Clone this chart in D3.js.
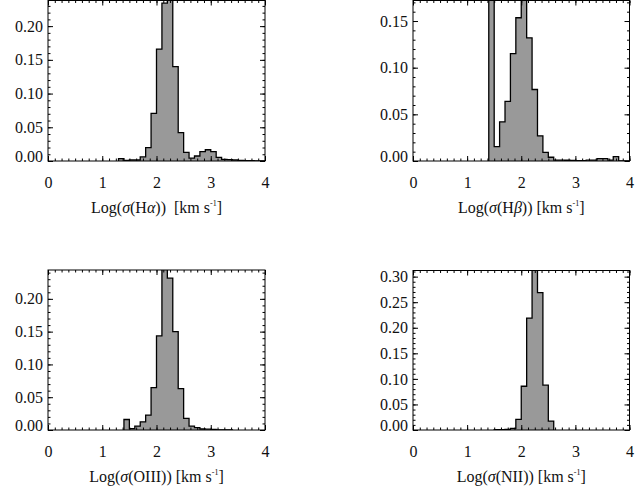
<!DOCTYPE html>
<html>
<head>
<meta charset="utf-8">
<script src="https://cdn.jsdelivr.net/npm/d3@7"></script>
<style>
  body { margin: 0; background: #fff; }
  svg { display: block; }
</style>
</head>
<body>
<div id="viz"></div>
<script>
const width = 635;
const height = 494;
const binWidth = 0.1;
const serif = '"Liberation Serif", "Times New Roman", Times, "DejaVu Serif", serif';

// Histogram values (fraction per 0.1 dex bin)
const haStart = 1.3;
const haValues = [0.0034, 0.001, 0.0015, 0.0015, 0.006, 0.0197, 0.0705, 0.166, 0.234, 0.26,
  0.140, 0.042, 0.0128, 0.0044, 0.0074, 0.0138, 0.0167, 0.0138, 0.0055, 0.0025,
  0.002, 0.0015, 0.001, 0.0007, 0.0005, 0.0003, 0.0002];
const hbStart = 1.4;
const hbValues = [0.30, 0.0153, 0.042, 0.064, 0.115, 0.1535, 0.19, 0.132, 0.0766, 0.027,
  0.0093, 0.004, 0.001, 0.001, 0.0008, 0.0006, 0.0005, 0.0005, 0.001, 0.001,
  0.0025, 0.0025, 0.001, 0.0046, 0, 0];
const oiiiStart = 1.4;
const oiiiValues = [0.016, 0.002, 0.006, 0.0125, 0.0227, 0.0645, 0.1435, 0.26, 0.2315, 0.150,
  0.063, 0.0177, 0.006, 0.0035, 0.0015, 0.0012, 0.0008, 0.0003, 0.0002, 0.0001];
const niiStart = 1.5;
const niiValues = [0.0005, 0.0005, 0.0013, 0.003, 0.0208, 0.0856, 0.219, 0.33, 0.2686, 0.0876, 0.0175];

// Axis ranges and ticks
const xTicks = [0, 1, 2, 3, 4];
const yMaxes = [0.238, 0.172, 0.244, 0.312];
const yTickSets = [
  [0, 0.05, 0.10, 0.15, 0.20],
  [0, 0.05, 0.10, 0.15],
  [0, 0.05, 0.10, 0.15, 0.20],
  [0, 0.05, 0.10, 0.15, 0.20, 0.25, 0.30]
];
const lineNames = [
  ['H', 'α'],
  ['H', 'β'],
  ['OIII', null],
  ['NII', null]
];
const gaps = ['  ', ' ', ' ', ' '];

const series = [
  {start: haStart, values: haValues},
  {start: hbStart, values: hbValues},
  {start: oiiiStart, values: oiiiValues},
  {start: niiStart, values: niiValues}
];

// Plot boxes
const boxes = [
  {left: 48, top: 0.5, right: 265, bottom: 161},
  {left: 413, top: 0.5, right: 629.5, bottom: 161},
  {left: 48, top: 270, right: 265, bottom: 430},
  {left: 413, top: 270.5, right: 629.5, bottom: 430}
];

const svg = d3.select('#viz')
  .append('svg')
    .attr('width', width)
    .attr('height', height)
    .attr('viewBox', `0 0 ${width} ${height}`);

series.forEach((s, i) => {
  const b = boxes[i];
  const x = d3.scaleLinear().domain([0, 4]).range([b.left, b.right]);
  const y = d3.scaleLinear().domain([0, yMaxes[i]]).range([b.bottom, b.top]);
  const g = svg.append('g').attr('class', `panel panel-${i}`);

  g.append('clipPath')
    .attr('id', `clip-${i}`)
    .append('rect')
      .attr('x', b.left)
      .attr('y', b.top)
      .attr('width', b.right - b.left)
      .attr('height', b.bottom - b.top);

  // step outline of the histogram
  const pts = [[s.start, 0]];
  s.values.forEach((v, k) => {
    const x0 = s.start + k * binWidth;
    pts.push([x0, v], [x0 + binWidth, v]);
  });
  pts.push([s.start + s.values.length * binWidth, 0]);

  const line = d3.line()
    .x(d => x(d[0]))
    .y(d => y(d[1]));

  g.append('path')
    .attr('clip-path', `url(#clip-${i})`)
    .attr('d', line(pts))
    .attr('fill', '#999')
    .attr('stroke', '#000')
    .attr('stroke-width', 1.3)
    .attr('stroke-linejoin', 'miter');

  const xMinor = d3.range(0, 4.0001, 0.125);
  const yMinor = d3.range(0, yMaxes[i], 0.01);

  const addAxis = (axis, tx, ty, cls) => {
    const a = g.append('g')
      .attr('class', cls)
      .attr('transform', `translate(${tx},${ty})`)
      .call(axis);
    a.select('.domain').remove();
    a.attr('font-family', serif);
    a.selectAll('line').attr('stroke', '#000').attr('stroke-width', 1);
    return a;
  };

  // minor ticks all round
  addAxis(d3.axisBottom(x).tickValues(xMinor).tickSize(-2.5).tickFormat(''), 0, b.bottom, 'x-minor');
  addAxis(d3.axisTop(x).tickValues(xMinor).tickSize(-2.5).tickFormat(''), 0, b.top, 'x-minor');
  addAxis(d3.axisLeft(y).tickValues(yMinor).tickSize(-2.5).tickFormat(''), b.left, 0, 'y-minor');
  addAxis(d3.axisRight(y).tickValues(yMinor).tickSize(-2.5).tickFormat(''), b.right, 0, 'y-minor');

  // major ticks
  const xa = addAxis(d3.axisBottom(x).tickValues(xTicks).tickSize(-5).tickPadding(15.5).tickFormat(d3.format('d')),
    0, b.bottom, 'x-axis');
  addAxis(d3.axisTop(x).tickValues(xTicks).tickSize(-5).tickFormat(''), 0, b.top, 'x-top');
  const ya = addAxis(d3.axisLeft(y).tickValues(yTickSets[i]).tickSize(-5).tickPadding(5).tickFormat(d3.format('.2f')),
    b.left, 0, 'y-axis');
  addAxis(d3.axisRight(y).tickValues(yTickSets[i]).tickSize(-5).tickFormat(''), b.right, 0, 'y-right');

  xa.selectAll('text')
    .attr('font-family', serif).attr('font-size', 16).attr('fill', '#111');
  ya.selectAll('text')
    .attr('font-family', serif).attr('font-size', 16).attr('fill', '#111')
    .attr('dy', d => d === 0 ? '0em' : '0.32em');

  // frame
  g.append('rect')
    .attr('x', b.left)
    .attr('y', b.top)
    .attr('width', b.right - b.left)
    .attr('height', b.bottom - b.top)
    .attr('fill', 'none')
    .attr('stroke', '#000')
    .attr('stroke-width', 1);

  // axis title
  const t = g.append('text')
    .attr('x', (b.left + b.right) / 2)
    .attr('y', b.bottom + 52)
    .attr('text-anchor', 'middle')
    .attr('font-family', serif)
    .attr('font-size', 16)
    .attr('fill', '#111')
    .style('white-space', 'pre')
    .attr('xml:space', 'preserve');
  const [base, greek] = lineNames[i];
  t.append('tspan').text('Log(');
  t.append('tspan').attr('font-style', 'italic').text('σ');
  t.append('tspan').text('(' + base);
  if (greek) t.append('tspan').attr('font-style', 'italic').text(greek);
  t.append('tspan').text('))' + gaps[i] + '[km s');
  t.append('tspan').attr('font-size', 8).attr('dy', -7).text('-1');
  t.append('tspan').attr('dy', 7).text(']');
});
</script>
</body>
</html>
